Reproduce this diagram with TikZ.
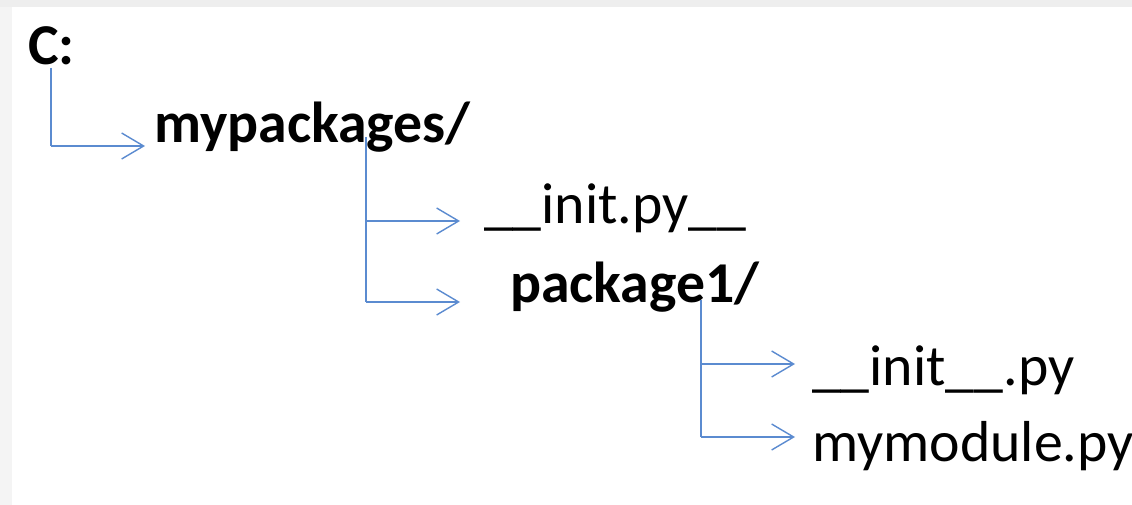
\documentclass[tikz,border=0pt]{standalone}
\usepackage{fontspec}
\setmainfont{Carlito}
\usetikzlibrary{arrows.meta}
\definecolor{linkblue}{HTML}{5B8BD0}
\definecolor{edgegray}{HTML}{EEEEEE}
\definecolor{sidegray}{HTML}{F4F4F4}
\tikzset{
  x=1bp, y=-1bp,
  dirtext/.style={anchor=base west, inner sep=0pt, font=\fontsize{58}{60}\selectfont\bfseries},
  filetext/.style={anchor=base west, inner sep=0pt, font=\fontsize{58}{60}\selectfont},
  link/.style={draw=linkblue, line width=1.4bp, -{Straight Barb[length=22bp, width=26bp, line width=1.4bp]}},
  trunk/.style={draw=linkblue, line width=1.4bp}
}
\begin{document}
\begin{tikzpicture}
\useasboundingbox (0,0) rectangle (1132,505);
\clip (0,0) rectangle (1132,505);
\fill[white] (0,0) rectangle (1132,505);
\fill[sidegray] (0,0) rectangle (12,505);
\fill[edgegray] (0,0) rectangle (1132,7);
% nodes
\node[dirtext] (c) at (28,65) {C:};
\node[dirtext] (mp) at (154,143) {mypackages/};
\node[filetext] (ip) at (484,224) {\_\_init.py\_\_};
\node[dirtext] (p1) at (510,303) {package1/};
\node[filetext] (ii) at (812,386) {\_\_init\_\_.py};
\node[filetext] (mm) at (812,461) {mymodule.py};
% branch points and arrow tips
\coordinate (c0) at (51,68);
\coordinate (c1) at (51,146);
\coordinate (ct) at (145,146);
\coordinate (m0) at (366,137);
\coordinate (m1) at (366,221);
\coordinate (m2) at (366,302);
\coordinate (mt1) at (460,221);
\coordinate (mt2) at (460,302);
\coordinate (p0) at (701,300);
\coordinate (p1a) at (701,364);
\coordinate (p1b) at (701,437);
\coordinate (pt1) at (795,364);
\coordinate (pt2) at (795,437);
% connectors
\draw[trunk] (c0) -- (c1);
\draw[link] (c1) -- (ct);
\draw[trunk] (m0) -- (m2);
\draw[link] (m1) -- (mt1);
\draw[link] (m2) -- (mt2);
\draw[trunk] (p0) -- (p1b);
\draw[link] (p1a) -- (pt1);
\draw[link] (p1b) -- (pt2);
\end{tikzpicture}
\end{document}
